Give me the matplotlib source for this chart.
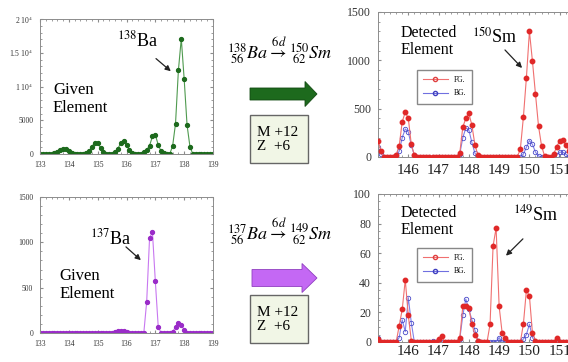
import numpy as np
import matplotlib
matplotlib.use("Agg")
import matplotlib.pyplot as plt
from matplotlib.patches import Rectangle, FancyArrow
from matplotlib.lines import Line2D
from matplotlib.ticker import MultipleLocator

plt.rcParams['font.family'] = ['Liberation Serif', 'DejaVu Serif']
plt.rcParams['mathtext.fontset'] = 'stix'

W, H = 568, 362

# ---- data ----
# given element spectra, mass 133.0 .. 139.0 step 0.1
given_mass = np.linspace(133.0, 139.0, 61)
ba138_counts = [0, 0, 0, 0, 0, 100, 300, 550, 750, 700,
                450, 200, 50, 0, 0, 0, 100, 400, 1100, 1700,
                1700, 900, 300, 50, 0, 0, 300, 800, 1600, 2000,
                1300, 600, 200, 0, 0, 0, 300, 600, 1250, 2600,
                2850, 1350, 400, 100, 0, 0, 1200, 4500, 12400, 17100,
                11100, 4300, 1100, 0, 0, 0, 0, 0, 0, 0,
                0]
ba137_counts = [0, 0, 0, 0, 0, 0, 0, 0, 0, 0,
                0, 0, 0, 0, 0, 0, 0, 0, 0, 0,
                0, 0, 0, 0, 0, 0, 10, 20, 25, 20,
                10, 0, 0, 0, 0, 0, 0, 345, 1050, 1110,
                570, 70, 0, 0, 0, 0, 10, 70, 115, 90,
                35, 5, 0, 0, 0, 0, 0, 0, 0, 0,
                0]

# detected element spectra, mass 145.0 .. 151.5 step 0.1
detected_mass = np.linspace(145.0, 151.5, 66)
sm150_fg = [170, 60, 5, 0, 0, 0, 20, 115, 365, 465,
            400, 130, 20, 0, 0, 0, 0, 0, 0, 0,
            0, 0, 0, 0, 0, 0, 0, 40, 310, 400,
            450, 330, 125, 20, 0, 0, 0, 0, 0, 0,
            0, 0, 0, 0, 0, 0, 5, 80, 410, 820,
            1300, 990, 650, 320, 115, 10, 0, 0, 30, 105,
            170, 180, 120, 60, 20, 0]
sm150_bg = [100, 30, 0, 0, 0, 0, 10, 60, 200, 290,
            260, 120, 20, 0, 0, 0, 0, 0, 0, 0,
            0, 0, 0, 0, 0, 0, 0, 30, 200, 300,
            280, 150, 40, 0, 0, 0, 0, 0, 0, 0,
            0, 0, 0, 0, 0, 0, 0, 0, 30, 100,
            170, 130, 50, 10, 0, 0, 0, 0, 0, 20,
            50, 50, 30, 10, 0, 0]
sm149_fg = [2, 0, 0, 0, 0, 0, 0, 11, 22, 42,
            18, 1, 0, 0, 0, 0, 0, 0, 0, 0,
            2, 4, 0, 0, 0, 0, 0, 3, 24, 24,
            23, 12, 5, 1, 0, 0, 0, 12, 65, 77,
            24, 6, 3, 0, 0, 0, 0, 0, 12, 35,
            31, 6, 1, 0, 0, 0, 0, 0, 0, 2.5,
            0, 0, 0, 0, 0, 0]
sm149_bg = [3, 0, 0, 0, 0, 0, 0, 3, 15, 7,
            30, 13, 0, 0, 0, 0, 0, 0, 1, 0,
            0, 0, 0, 0, 0, 0, 0, 2, 18, 29,
            22, 15, 8, 1, 0, 0, 0, 0, 0, 0,
            3, 0, 0, 0, 0, 0, 0, 0, 2, 5,
            12, 3, 0, 0, 0, 0, 0, 0, 0, 0,
            0, 0, 0, 0, 0, 0]

given_xticks = [133, 134, 135, 136, 137, 138, 139]
detected_xticks = [146, 147, 148, 149, 150, 151]
ba138_yticks = [0, 5000, 10000, 15000, 20000]
ba138_yticklabels = ['0', '5000', r'1 10$^4$', r'1.5 10$^4$', r'2 10$^4$']

GREEN = '#1d6a1d'
RED = '#e02828'
BLUE = '#4a4ac8'

fig = plt.figure(figsize=(W / 100, H / 100), dpi=100)


def px_axes(left, top, right, bottom):
    return fig.add_axes([left / W, 1 - bottom / H, (right - left) / W, (bottom - top) / H])


def style(ax, big, xpad=5):
    for s in ax.spines.values():
        s.set_color('#8c8c8c')
        s.set_linewidth(0.7)
    ax.tick_params(which='both', direction='in', top=True, right=True, colors='#8c8c8c')
    ax.tick_params(which='major', length=2.5)
    ax.tick_params(which='minor', length=1.5)
    if big:
        ax.tick_params(axis='x', labelsize=11, labelcolor='#222', pad=xpad)
        ax.tick_params(axis='y', labelsize=8.5, labelcolor='#333', pad=5)
    else:
        ax.tick_params(labelsize=5.5, labelcolor='#333', pad=5)


# ---- given element panels ----
ax1 = px_axes(40, 19, 213, 154)
ax1.plot(given_mass, ba138_counts, color='#4f9a4f', lw=0.8, marker='o', ms=2.8,
         mfc=GREEN, mec=GREEN)
ax1.set_xlim(133, 139)
ax1.set_ylim(0, 20000)
ax1.set_xticks(given_xticks)
ax1.set_yticks(ba138_yticks)
ax1.set_yticklabels(ba138_yticklabels)
ax1.xaxis.set_minor_locator(MultipleLocator(0.2))
ax1.yaxis.set_minor_locator(MultipleLocator(1000))
style(ax1, False)
ax1.text(135.67, 16000, r'$^{138}$Ba', fontsize=13, va='baseline')
ax1.text(133.45, 10670, 'Given\nElement', fontsize=12, va='top', linespacing=1.15)
ax1.annotate('', xy=(137.61, 12000), xytext=(136.95, 14400),
             arrowprops=dict(arrowstyle='-|>', color='#222', lw=0.9, mutation_scale=8))

ax2 = px_axes(40, 197, 213, 333)
ax2.plot(given_mass, ba137_counts, color='#c878f0', lw=0.8, marker='o', ms=2.8,
         mfc='#9a2cc8', mec='#9a2cc8')
ax2.set_xlim(133, 139)
ax2.set_ylim(0, 1500)
ax2.set_xticks(given_xticks)
ax2.set_yticks([0, 500, 1000, 1500])
ax2.xaxis.set_minor_locator(MultipleLocator(0.2))
ax2.yaxis.set_minor_locator(MultipleLocator(100))
style(ax2, False)
ax2.text(134.73, 982, r'$^{137}$Ba', fontsize=13, va='baseline')
ax2.text(133.66, 717, 'Given\nElement', fontsize=12, va='top', linespacing=1.15)
ax2.annotate('', xy=(136.57, 783), xytext=(135.91, 970),
             arrowprops=dict(arrowstyle='-|>', color='#222', lw=0.9, mutation_scale=8))

# ---- detected element panels ----
fg_handle = Line2D([], [], color='#f07070', lw=0.8, marker='o', ms=3, mfc='none', mec='#e04040')
bg_handle = Line2D([], [], color='#7070e0', lw=0.8, marker='o', ms=3, mfc='none', mec='#4040c0')


def detected(ax, fg, bg, ymax, ystep, yminor, xpad):
    ax.plot(detected_mass, fg, color='#f07070', lw=0.8, marker='o', ms=3.2,
            mfc=RED, mec=RED, zorder=3)
    ax.plot(detected_mass, bg, color='#8080e8', lw=0.8, marker='o', ms=3.2,
            mfc='none', mec=BLUE, mew=0.6, zorder=2)
    ax.set_xlim(145, 152)
    ax.set_ylim(0, ymax)
    ax.set_xticks(detected_xticks)
    ax.set_yticks(np.arange(0, ymax + 1, ystep))
    ax.xaxis.set_minor_locator(MultipleLocator(0.2))
    ax.yaxis.set_minor_locator(MultipleLocator(yminor))
    style(ax, True, xpad)


ax3 = px_axes(378, 12, 590, 157)
detected(ax3, sm150_fg, sm150_bg, 1500, 500, 100, 5)
ax3.text(145.73, 1366, 'Detected\nElement', fontsize=11.5, va='top', linespacing=1.1)
ax3.text(148.1, 1179, r'$^{150}$Sm', fontsize=13, va='baseline')
ax3.annotate('', xy=(149.82, 900), xytext=(149.13, 1128),
             arrowprops=dict(arrowstyle='-|>', color='#222', lw=0.9, mutation_scale=8))
ax3.legend([fg_handle, bg_handle], ['FG.', 'BG.'], loc='upper left',
           bbox_to_anchor=(0.184, 0.6), borderaxespad=0, fontsize=5.5, fancybox=False,
           edgecolor='#888', framealpha=1, handlelength=3.2, borderpad=0.8, labelspacing=0.7)

ax4 = px_axes(378, 194, 590, 342)
detected(ax4, sm149_fg, sm149_bg, 100, 20, 5, 2.5)
ax4.text(145.73, 92.6, 'Detected\nElement', fontsize=11.5, va='top', linespacing=1.1)
ax4.text(149.46, 82.4, r'$^{149}$Sm', fontsize=13, va='baseline')
ax4.annotate('', xy=(149.16, 57), xytext=(149.85, 71),
             arrowprops=dict(arrowstyle='-|>', color='#222', lw=0.9, mutation_scale=8))
ax4.legend([fg_handle, bg_handle], ['FG.', 'BG.'], loc='upper left',
           bbox_to_anchor=(0.184, 0.635), borderaxespad=0, fontsize=5.5, fancybox=False,
           edgecolor='#888', framealpha=1, handlelength=3.2, borderpad=0.8, labelspacing=0.7)

# ---- middle column: reaction, arrow, box ----
ov = fig.add_axes([0, 0, 1, 1])
ov.set_xlim(0, W)
ov.set_ylim(H, 0)
ov.axis('off')

ov.text(280, 60, r'${}^{138}_{\ 56}Ba\overset{6d}{\rightarrow}{}^{150}_{\ 62}Sm$',
        fontsize=13, ha='center', va='baseline')
ov.text(280, 241, r'${}^{137}_{\ 56}Ba\overset{6d}{\rightarrow}{}^{149}_{\ 62}Sm$',
        fontsize=13, ha='center', va='baseline')

ov.add_patch(FancyArrow(250, 94, 67, 0, width=12, head_width=25, head_length=12,
                        length_includes_head=True, fc=GREEN, ec='#124a12', lw=0.6))
ov.add_patch(FancyArrow(252, 278, 65, 0, width=17, head_width=29, head_length=15,
                        length_includes_head=True, fc='#c468f4', ec='#9040c0', lw=0.6))

for top in (115, 295):
    ov.add_patch(Rectangle((250, top), 58, 48, fc='#f1f6e6', ec='#666', lw=1))
    ov.text(257, top + 24, 'M +12\nZ  +6', fontsize=11, ha='left', va='center',
            linespacing=1.1)

fig.savefig('out.png', dpi=100, facecolor='white')
